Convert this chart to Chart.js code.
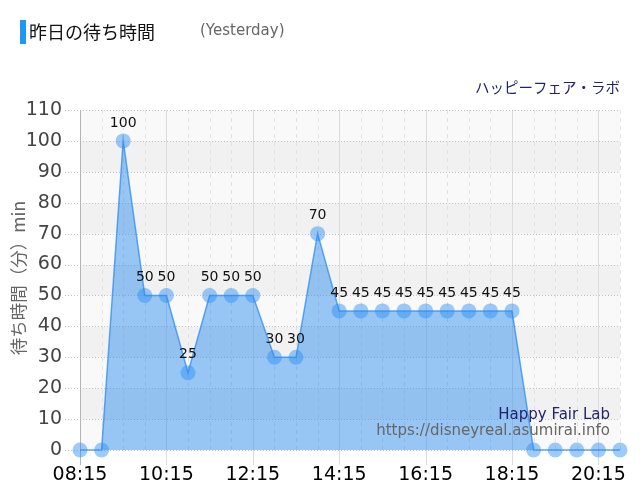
<!DOCTYPE html>
<html lang="ja">
<head>
<meta charset="utf-8">
<title>昨日の待ち時間</title>
<script src="https://cdn.jsdelivr.net/npm/chart.js@4.4.1/dist/chart.umd.min.js"></script>
<style>
  html, body { margin: 0; padding: 0; background: #fff; }
  #wrap { width: 640px; height: 500px; }
</style>
</head>
<body>
<div id="wrap"><canvas id="waitChart" width="640" height="500"></canvas></div>
<script>
// 時刻（30分ごと）
const times = ['08:15', '08:45', '09:15', '09:45', '10:15', '10:45', '11:15', '11:45', '12:15',
               '12:45', '13:15', '13:45', '14:15', '14:45', '15:15', '15:45', '16:15', '16:45',
               '17:15', '17:45', '18:15', '18:45', '19:15', '19:45', '20:15', '20:45'];
// 待ち時間（分）
const waits = [0, 0, 100, 50, 50, 25, 50, 50, 50, 30, 30, 70, 45, 45, 45, 45, 45, 45, 45, 45, 45, 0, 0, 0, 0, 0];
// 表示する時刻ラベル
const xLabels = ['08:15', '10:15', '12:15', '14:15', '16:15', '18:15', '20:15'];
const yTicks = [0, 10, 20, 30, 40, 50, 60, 70, 80, 90, 100, 110];

const latin = '"DejaVu Sans", sans-serif';
const jp = '"Noto Sans CJK JP", "DejaVu Sans", sans-serif';

// タイトルなど
const headerPlugin = {
    id: 'header',
    beforeDraw(chart) {
        const ctx = chart.ctx;
        ctx.save();
        ctx.fillStyle = '#fff';
        ctx.fillRect(0, 0, chart.width, chart.height);

        ctx.fillStyle = '#2196f3';
        ctx.fillRect(20, 20, 6, 24);

        ctx.textBaseline = 'middle';
        ctx.fillStyle = '#111';
        ctx.font = '18px ' + jp;
        ctx.fillText('昨日の待ち時間', 29, 32);

        ctx.fillStyle = '#666';
        ctx.font = '15px ' + latin;
        ctx.fillText('(Yesterday)', 200, 31);

        ctx.textAlign = 'right';
        ctx.fillStyle = '#22236e';
        ctx.font = '14.5px ' + jp;
        ctx.fillText('ハッピーフェア・ラボ', 620, 87);
        ctx.restore();
    }
};

// 背景の縞とグリッド
const gridPlugin = {
    id: 'grid',
    beforeDatasetsDraw(chart) {
        const { ctx, chartArea: a, scales: { x, y } } = chart;
        ctx.save();
        for (let i = 0; i < yTicks.length - 1; i++) {
            const y0 = y.getPixelForValue(yTicks[i]);
            const y1 = y.getPixelForValue(yTicks[i + 1]);
            ctx.fillStyle = i % 2 === 1 ? '#f1f1f1' : '#f9f9f9';
            ctx.fillRect(a.left, y1, a.right - a.left, y0 - y1);
        }

        ctx.lineWidth = 1;
        times.forEach((t, i) => {
            const px = Math.round(x.getPixelForValue(i)) + 0.5;
            ctx.beginPath();
            if (xLabels.includes(t)) {
                ctx.setLineDash([]);
                ctx.strokeStyle = '#dcdcdc';
                ctx.moveTo(px, a.top);
                ctx.lineTo(px, a.bottom + 15);
            } else {
                ctx.setLineDash([4, 4]);
                ctx.strokeStyle = '#e2e2e2';
                ctx.moveTo(px, a.top);
                ctx.lineTo(px, a.bottom);
            }
            ctx.stroke();
        });

        ctx.setLineDash([1, 2]);
        ctx.strokeStyle = '#c4c4c4';
        yTicks.forEach(v => {
            const py = Math.round(y.getPixelForValue(v)) + 0.5;
            ctx.beginPath();
            ctx.moveTo(a.left - 15, py);
            ctx.lineTo(a.right, py);
            ctx.stroke();
        });

        ctx.setLineDash([]);
        ctx.strokeStyle = '#b4b4b4';
        ctx.beginPath();
        ctx.moveTo(a.left + 0.5, a.top);
        ctx.lineTo(a.left + 0.5, a.bottom + 15);
        ctx.stroke();
        ctx.restore();
    },
    afterDatasetsDraw(chart) {
        const { ctx, chartArea: a, scales: { x } } = chart;
        const pts = chart.getDatasetMeta(0).data;
        ctx.save();

        // 値ラベル
        ctx.font = '14px ' + latin;
        ctx.fillStyle = '#111';
        ctx.textAlign = 'center';
        ctx.textBaseline = 'middle';
        pts.forEach((p, i) => {
            if (waits[i] > 0) ctx.fillText(String(waits[i]), p.x, p.y - 18);
        });

        // 透かし
        ctx.textAlign = 'right';
        ctx.fillStyle = '#22236e';
        ctx.font = '15px ' + latin;
        ctx.fillText('Happy Fair Lab', 610, 415);
        ctx.fillStyle = '#666';
        ctx.font = '15px ' + latin;
        ctx.fillText('https://disneyreal.asumirai.info', 610, 431);

        // 横軸ラベル
        ctx.textAlign = 'center';
        ctx.fillStyle = '#000';
        ctx.font = '19px ' + latin;
        xLabels.forEach(t => {
            const px = x.getPixelForValue(times.indexOf(t));
            ctx.fillText(t, px, a.bottom + 25);
        });
        ctx.restore();
    }
};

new Chart(document.getElementById('waitChart'), {
    type: 'line',
    data: {
        labels: times,
        datasets: [{
            data: waits,
            fill: 'origin',
            backgroundColor: 'rgba(30, 136, 240, 0.45)',
            borderColor: 'rgba(40, 140, 240, 0.75)',
            borderWidth: 1.5,
            tension: 0,
            pointRadius: 7.5,
            pointHoverRadius: 7.5,
            pointBorderWidth: 0,
            pointBackgroundColor: 'rgba(40, 140, 245, 0.45)',
            clip: false
        }]
    },
    options: {
        responsive: false,
        animation: false,
        devicePixelRatio: 1,
        layout: { padding: { top: 110, right: 20, left: 0, bottom: 0 } },
        plugins: {
            legend: { display: false },
            tooltip: { enabled: false }
        },
        scales: {
            x: {
                type: 'category',
                offset: false,
                grid: { display: false },
                border: { display: false },
                ticks: { display: false },
                afterFit(s) { s.height = 50; s.paddingLeft = 0; s.paddingRight = 0; }
            },
            y: {
                min: 0,
                max: 110,
                grid: { display: false },
                border: { display: false },
                ticks: {
                    stepSize: 10,
                    padding: 10,
                    color: '#444',
                    font: { family: latin, size: 19 }
                },
                title: {
                    display: true,
                    text: ' 待ち時間（分）min',
                    color: '#666',
                    font: { family: jp, size: 17.5 },
                    padding: { top: 8, bottom: 0 }
                },
                afterFit(s) { s.width = 80; }
            }
        }
    },
    plugins: [headerPlugin, gridPlugin]
});
</script>
</body>
</html>
